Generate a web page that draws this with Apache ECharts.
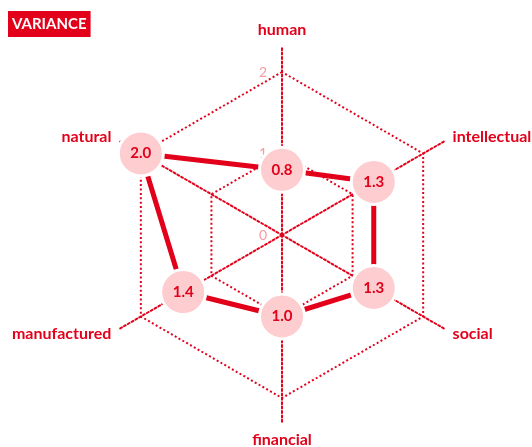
<!DOCTYPE html>
<html>
<head>
<meta charset="utf-8">
<script src="https://cdn.jsdelivr.net/npm/echarts@6/dist/echarts.min.js"></script>
<style>
html, body { margin: 0; padding: 0; background: #fff; }
#chart { width: 532px; height: 447px; }
</style>
</head>
<body>
<div id="chart"></div>
<script>
// radar data in echarts order (counter-clockwise from the top)
var dimensions = ['human', 'natural', 'manufactured', 'financial', 'social', 'intellectual'];
var variance = [0.8, 2.0, 1.4, 1.0, 1.3, 1.3];
var scaleMax = 2;

var RED = '#e2001a';
var PINK = '#fdcdd0';
var dots = { color: RED, width: 2, type: [2, 2.4] };

var tickLabel = {
    show: true,
    margin: 15,
    color: '#f79aa2',
    fontSize: 14,
    fontFamily: 'Lato',
    formatter: function (v) { return Math.round(v); }
};

var myChart = echarts.init(document.getElementById('chart'), null, { renderer: 'canvas' });

var option = {
    animation: false,
    title: {
        text: 'VARIANCE',
        left: 8,
        top: 11,
        padding: [6, 4, 5, 4],
        backgroundColor: RED,
        textStyle: { color: '#fff', fontSize: 15, fontWeight: 'bold', fontFamily: 'Lato' }
    },
    radar: [
        {
            // scale: rings at 1 and 2, tick labels only on the first axis
            center: [282, 235],
            radius: 163,
            startAngle: 90,
            shape: 'polygon',
            splitNumber: 2,
            indicator: dimensions.map(function (d, i) {
                var ind = { name: '', min: 0, max: scaleMax };
                if (i === 0) ind.axisLabel = tickLabel;
                return ind;
            }),
            axisName: { show: false },
            axisLine: { show: false },
            axisTick: { show: false },
            axisLabel: { show: false },
            splitLine: { lineStyle: dots },
            splitArea: { show: false }
        },
        {
            // longer spokes carrying the names
            center: [282, 235],
            radius: 188,
            startAngle: 90,
            shape: 'polygon',
            splitNumber: 1,
            indicator: dimensions.map(function (d) { return { name: d, min: 0, max: scaleMax }; }),
            nameGap: 9,
            axisName: { color: RED, fontSize: 16, fontWeight: 'bold', fontFamily: 'Lato' },
            axisLine: { lineStyle: dots },
            axisTick: { show: false },
            axisLabel: { show: false },
            splitLine: { show: false },
            splitArea: { show: false }
        }
    ],
    series: [
        {
            type: 'radar',
            radarIndex: 0,
            symbol: 'circle',
            symbolSize: 45,
            lineStyle: { color: RED, width: 5 },
            itemStyle: { color: PINK, borderColor: '#fff', borderWidth: 3 },
            label: {
                show: true,
                position: 'inside',
                color: RED,
                fontSize: 15,
                fontWeight: 'bold',
                fontFamily: 'Lato',
                formatter: function (p) { return Number(p.value).toFixed(1); }
            },
            data: [{ value: variance, name: 'variance' }]
        }
    ]
};
myChart.setOption(option);
</script>
</body>
</html>
